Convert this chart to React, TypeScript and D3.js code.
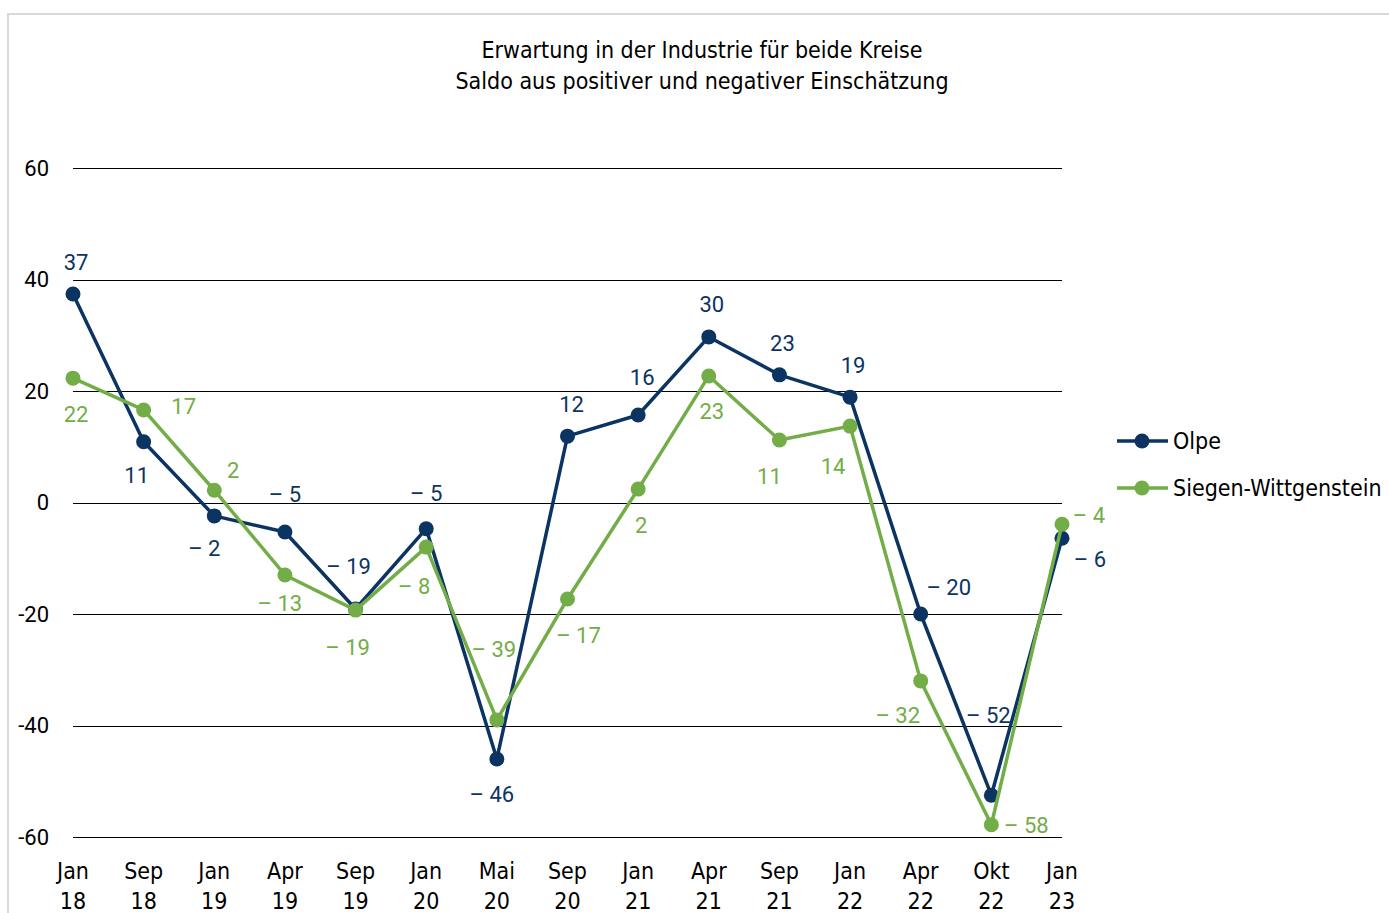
import React, { useEffect, useRef } from "react";
import * as d3 from "d3";

const months = ["Jan", "Sep", "Jan", "Apr", "Sep", "Jan", "Mai", "Sep", "Jan", "Apr", "Sep", "Jan", "Apr", "Okt", "Jan"];
const years = ["18", "18", "19", "19", "19", "20", "20", "20", "21", "21", "21", "22", "22", "22", "23"];

const olpe = [37.4, 10.9, -2.4, -5.3, -19.1, -4.7, -46, 11.9, 15.7, 29.7, 22.9, 18.9, -20, -52.5, -6.4];
const olpeLabels = ["37", "11", "– 2", "– 5", "– 19", "– 5", "– 46", "12", "16", "30", "23", "19", "– 20", "– 52", "– 6"];
const siegen = [22.3, 16.6, 2.2, -13, -19.3, -8, -39, -17.3, 2.4, 22.7, 11.2, 13.7, -32, -57.8, -3.9];
const siegenLabels = ["22", "17", "2", "– 13", "– 19", "– 8", "– 39", "– 17", "2", "23", "11", "14", "– 32", "– 58", "– 4"];

const yTicks = [60, 40, 20, 0, -20, -40, -60];

// label placement relative to the point (dx, dy)
const olpeOffsets = [[3, -32], [-7, 34], [-10, 32], [0, -38], [-7, -43], [0, -35], [-5, 35], [4, -32], [4, -38], [3, -33], [3, -32], [3, -32], [28, -27], [-3, -80], [28, 21]];
const siegenOffsets = [[3, 36], [40, -4], [19, -20], [-5, 28], [-8, 37], [-12, 39], [-3, -71], [11, 36], [3, 36], [3, 35], [-10, 36], [-17, 40], [-23, 34], [35, 1], [27, -9]];

const BLUE = "#0b3463";
const GREEN = "#72ad47";
const narrow = "'Liberation Sans Narrow', 'DejaVu Sans Condensed', sans-serif";
const numFont = "Roboto, 'Liberation Sans', sans-serif";

export default function App() {
  const ref = useRef<SVGSVGElement>(null);

  useEffect(() => {
    const width = 1389;
    const height = 913;
    const svg = d3.select(ref.current).attr("width", width).attr("height", height);
    svg.selectAll("*").remove();

    svg.append("rect").attr("width", width).attr("height", height).attr("fill", "#fff");

    // border
    svg.append("rect")
      .attr("x", 8).attr("y", 14)
      .attr("width", width).attr("height", height)
      .attr("fill", "none")
      .attr("stroke", "#d9d9d9")
      .attr("stroke-width", 2);

    const idx = months.map((_, i) => i);
    const x = d3.scalePoint<number>().domain(idx).range([73, 1062]);
    const y = d3.scaleLinear().domain([-60, 60]).range([837, 168]);

    // title
    svg.append("text")
      .attr("x", 702).attr("y", 58)
      .attr("text-anchor", "middle")
      .style("font-family", narrow).style("font-size", "23px")
      .text("Erwartung in der Industrie für beide Kreise");
    svg.append("text")
      .attr("x", 702).attr("y", 89)
      .attr("text-anchor", "middle")
      .style("font-family", narrow).style("font-size", "23px")
      .text("Saldo aus positiver und negativer Einschätzung");

    // grid + y ticks
    const grid = svg.append("g");
    yTicks.forEach(t => {
      const yy = Math.round(y(t)) + 0.5;
      grid.append("line")
        .attr("x1", 73).attr("x2", 1062)
        .attr("y1", yy).attr("y2", yy)
        .attr("stroke", "#000").attr("stroke-width", 1);
      grid.append("text")
        .attr("x", 49).attr("y", y(t))
        .attr("dy", "0.35em")
        .attr("text-anchor", "end")
        .style("font-family", numFont).style("font-size", "22px")
        .text(t);
    });

    // x categories
    idx.forEach(i => {
      const t = svg.append("text")
        .attr("text-anchor", "middle")
        .style("font-family", narrow).style("font-size", "23px");
      t.append("tspan").attr("x", x(i)!).attr("y", 879).text(months[i]);
      t.append("tspan").attr("x", x(i)!).attr("y", 909).text(years[i]);
    });

    const line = d3.line<number>().x((_, i) => x(i)!).y(d => y(d));

    const series = [
      { values: olpe, labels: olpeLabels, offsets: olpeOffsets, color: BLUE },
      { values: siegen, labels: siegenLabels, offsets: siegenOffsets, color: GREEN },
    ];

    series.forEach(s => {
      svg.append("path")
        .datum(s.values)
        .attr("d", line)
        .attr("fill", "none")
        .attr("stroke", s.color)
        .attr("stroke-width", 3.5)
        .attr("stroke-linejoin", "round");
      svg.selectAll(null)
        .data(s.values)
        .enter()
        .append("circle")
        .attr("cx", (_, i) => x(i)!)
        .attr("cy", d => y(d))
        .attr("r", 7.5)
        .attr("fill", s.color);
    });

    series.forEach(s => {
      svg.selectAll(null)
        .data(s.values)
        .enter()
        .append("text")
        .attr("x", (_, i) => x(i)! + s.offsets[i][0])
        .attr("y", (d, i) => y(d) + s.offsets[i][1])
        .attr("dy", "0.35em")
        .attr("text-anchor", "middle")
        .attr("fill", s.color)
        .style("font-family", numFont).style("font-size", "22px")
        .text((_, i) => s.labels[i]);
    });

    // legend
    const legend = [
      { name: "Olpe", color: BLUE, y: 441 },
      { name: "Siegen-Wittgenstein", color: GREEN, y: 488 },
    ];
    legend.forEach(l => {
      svg.append("line")
        .attr("x1", 1117).attr("x2", 1168)
        .attr("y1", l.y).attr("y2", l.y)
        .attr("stroke", l.color).attr("stroke-width", 3.5);
      svg.append("circle").attr("cx", 1142).attr("cy", l.y).attr("r", 7.5).attr("fill", l.color);
      svg.append("text")
        .attr("x", 1173).attr("y", l.y)
        .attr("dy", "0.35em")
        .style("font-family", narrow).style("font-size", "23px")
        .text(l.name);
    });
  }, []);

  return <svg ref={ref} style={{ position: "absolute", left: 0, top: 0 }} />;
}
